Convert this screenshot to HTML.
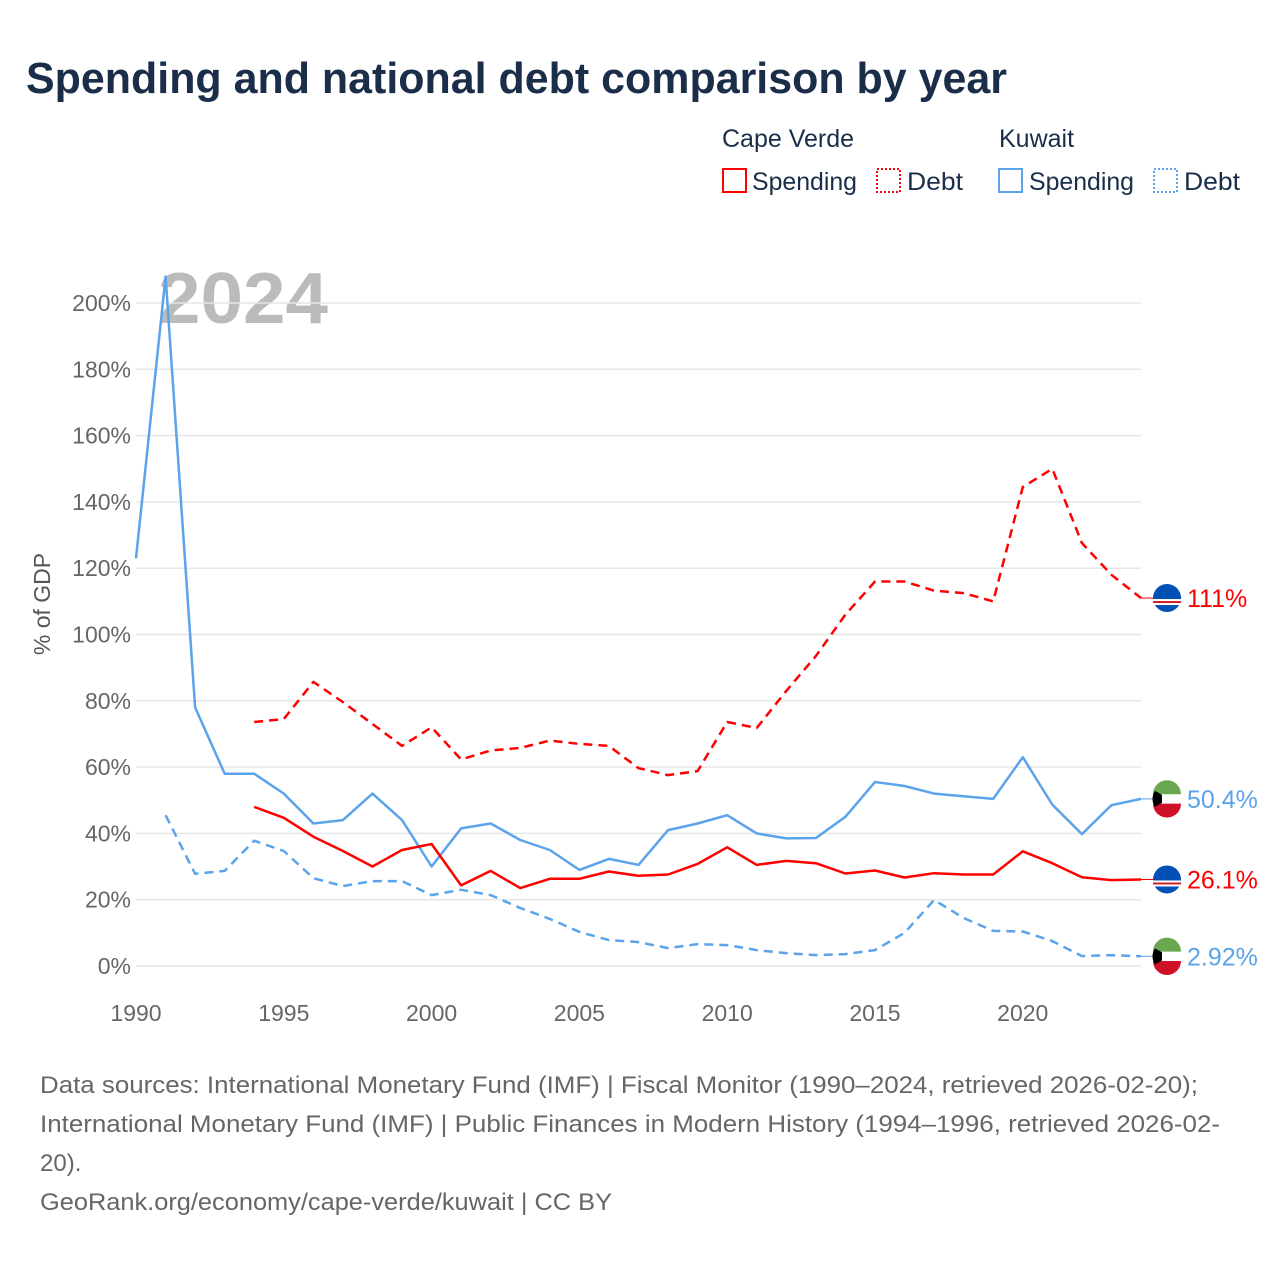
<!DOCTYPE html>
<html><head><meta charset="utf-8">
<style>
body{margin:0;background:#fff;font-family:"Liberation Sans",sans-serif;}
#wrap{position:relative;width:1280px;height:1280px;overflow:hidden;}
</style></head>
<body>
<div id="wrap">
<svg id="chart" width="1280" height="1280">
  <text x="26" y="93" font-size="44" font-weight="bold" fill="#1a2e4a" textLength="981" lengthAdjust="spacingAndGlyphs">Spending and national debt comparison by year</text>
  <g font-size="25" fill="#1a2e4a">
    <text x="722" y="147">Cape Verde</text>
    <text x="999" y="147">Kuwait</text>
    <g><rect x="723" y="169" width="23" height="23" fill="none" stroke="#ff0000" stroke-width="2"/><text x="752" y="190" textLength="105" lengthAdjust="spacingAndGlyphs">Spending</text></g>
    <g><rect x="877" y="169" width="23" height="23" fill="none" stroke="#ff0000" stroke-width="2" stroke-dasharray="2,2"/><text x="907" y="190" textLength="56" lengthAdjust="spacingAndGlyphs">Debt</text></g>
    <g><rect x="999" y="169" width="23" height="23" fill="none" stroke="#5ba3ea" stroke-width="2"/><text x="1029" y="190" textLength="105" lengthAdjust="spacingAndGlyphs">Spending</text></g>
    <g><rect x="1154" y="169" width="23" height="23" fill="none" stroke="#5ba3ea" stroke-width="2" stroke-dasharray="2,2"/><text x="1184" y="190" textLength="56" lengthAdjust="spacingAndGlyphs">Debt</text></g>
  </g>
  <text x="158" y="323" font-size="72" font-weight="bold" fill="#bbbbbb" textLength="170" lengthAdjust="spacingAndGlyphs">2024</text>
  <g id="grid"></g>
  <g id="series"></g>
  <text transform="translate(50,604) rotate(-90)" font-size="23" fill="#555" text-anchor="middle">% of GDP</text>
  <g font-size="24" fill="#666">
    <text x="40" y="1093" textLength="1158" lengthAdjust="spacingAndGlyphs">Data sources: International Monetary Fund (IMF) | Fiscal Monitor (1990–2024, retrieved 2026-02-20);</text>
    <text x="40" y="1132" textLength="1180" lengthAdjust="spacingAndGlyphs">International Monetary Fund (IMF) | Public Finances in Modern History (1994–1996, retrieved 2026-02-</text>
    <text x="40" y="1171">20).</text>
    <text x="40" y="1210" textLength="572" lengthAdjust="spacingAndGlyphs">GeoRank.org/economy/cape-verde/kuwait | CC BY</text>
  </g>
</svg>
</div>
<script>
const yTicks=[0,20,40,60,80,100,120,140,160,180,200];
const xTicks=[1990,1995,2000,2005,2010,2015,2020];
const kwSpendYears=[1990,1991,1992,1993,1994,1995,1996,1997,1998,1999,2000,2001,2002,2003,2004,2005,2006,2007,2008,2009,2010,2011,2012,2013,2014,2015,2016,2017,2018,2019,2020,2021,2022,2023,2024];
const kwSpend=[123,208,78,58,58,52,43,44,52,44,30,41.5,43,38,35,29,32.3,30.5,41,43,45.5,40,38.5,38.6,45,55.5,54.3,52,51.2,50.4,63,48.7,39.8,48.5,50.4];
const cvSpendYears=[1994,1995,1996,1997,1998,1999,2000,2001,2002,2003,2004,2005,2006,2007,2008,2009,2010,2011,2012,2013,2014,2015,2016,2017,2018,2019,2020,2021,2022,2023,2024];
const cvSpend=[48,44.7,39,34.7,30,35,36.8,24.3,28.7,23.5,26.3,26.3,28.5,27.2,27.6,30.8,35.8,30.5,31.7,31,27.9,28.8,26.7,28,27.6,27.6,34.6,31,26.8,25.9,26.1];
const cvDebtYears=cvSpendYears;
const cvDebt=[73.6,74.5,85.7,79.6,73,66.4,72,62.3,65,65.8,68,67,66.4,59.7,57.6,58.8,73.6,71.8,83,93.5,106,116,116,113.2,112.5,110,144.5,150,127.6,118,111];
const kwDebtYears=kwSpendYears.slice(1);
const kwDebt=[45.5,27.8,28.7,37.8,34.7,26.5,24.1,25.6,25.6,21.4,23,21.4,17.5,14.2,10.3,7.8,7.2,5.4,6.6,6.3,4.8,3.9,3.3,3.6,4.8,10,19.9,14.5,10.6,10.4,7.5,3.0,3.3,2.92];
const endLabels=["111%","50.4%","26.1%","2.92%"];

const X0=136,X1=1141,Y0=966,Y200=303;
const xs=y=>X0+(y-1990)*(X1-X0)/34;
const ys=v=>Y0-v*(Y0-Y200)/200;
const NS="http://www.w3.org/2000/svg";
const grid=document.getElementById('grid'),ser=document.getElementById('series');
function mk(tag,attrs,parent){const e=document.createElementNS(NS,tag);for(const k in attrs)e.setAttribute(k,attrs[k]);parent.appendChild(e);return e;}
yTicks.forEach(t=>{
  const l=mk('line',{x1:X0,x2:X1,y1:ys(t),y2:ys(t),stroke:'#e6e6e6','stroke-width':1.5},grid);
  
  
  const tx=mk('text',{x:131,y:ys(t)+8,'font-size':23,fill:'#666','text-anchor':'end'},grid);
  tx.textContent=t+'%';
  
  
});
xTicks.forEach(t=>{
  const tx=mk('text',{x:xs(t),y:1021,'font-size':23,fill:'#666','text-anchor':'middle'},grid);
  tx.textContent=t;
  
  
});
function line(years,vals,color,dash,name){
  const d=years.map((y,i)=>(i?'L':'M')+xs(y).toFixed(1)+','+ys(vals[i]).toFixed(1)).join('');
  const p=mk('path',{d:d,fill:'none',stroke:color,'stroke-width':2.5,'stroke-linejoin':'round'},ser);
  if(dash)p.setAttribute('stroke-dasharray','9,6');
  
  
}
line(kwSpendYears,kwSpend,'#5ba3ea',false,'kuwait-spending-line');
line(kwDebtYears,kwDebt,'#5ba3ea',true,'kuwait-debt-line');
line(cvSpendYears,cvSpend,'#ff0000',false,'cape-verde-spending-line');
line(cvDebtYears,cvDebt,'#ff0000',true,'cape-verde-debt-line');
const ends=[[cvDebt[cvDebt.length-1],'#ff0000','cv'],[kwSpend[kwSpend.length-1],'#5ba3ea','kw'],[cvSpend[cvSpend.length-1],'#ff0000','cv'],[kwDebt[kwDebt.length-1],'#5ba3ea','kw']];
ends.forEach((e,i)=>{
  const y=ys(e[0]);
  mk('line',{x1:X1,x2:1153,y1:y,y2:y,stroke:e[1],'stroke-width':1},ser);
  const g=mk('g',{},ser);
  
  
  const cx=1167,r=14;
  if(e[2]==='cv'){
    mk('circle',{cx:cx,cy:y,r:r,fill:'#0050b5'},g);
    mk('rect',{x:cx-r,y:y+1,width:2*r,height:6,fill:'#fff'},g);
    mk('rect',{x:cx-r,y:y+3,width:2*r,height:2,fill:'#cf2027'},g);
  } else {
    mk('circle',{cx:cx,cy:y,r:r,fill:'#fff'},g);
    mk('path',{d:`M${cx-r},${y-4.7}A${r},${r} 0 0 1 ${cx+r},${y-4.7}Z`,fill:'#6aa84f'},g);
    mk('path',{d:`M${cx-r},${y+4.7}A${r},${r} 0 0 0 ${cx+r},${y+4.7}Z`,fill:'#ce1126'},g);
    mk('path',{d:`M${cx-12},${y-8}L${cx-5},${y-4}L${cx-5},${y+4}L${cx-12},${y+8}A${r},${r} 0 0 1 ${cx-12},${y-8}Z`,fill:'#000'},g);
  }
  const tx=mk('text',{x:1187,y:y+9,'font-size':25,fill:e[1]},ser);
  tx.textContent=endLabels[i];
  
  
});
</script>
</body></html>
